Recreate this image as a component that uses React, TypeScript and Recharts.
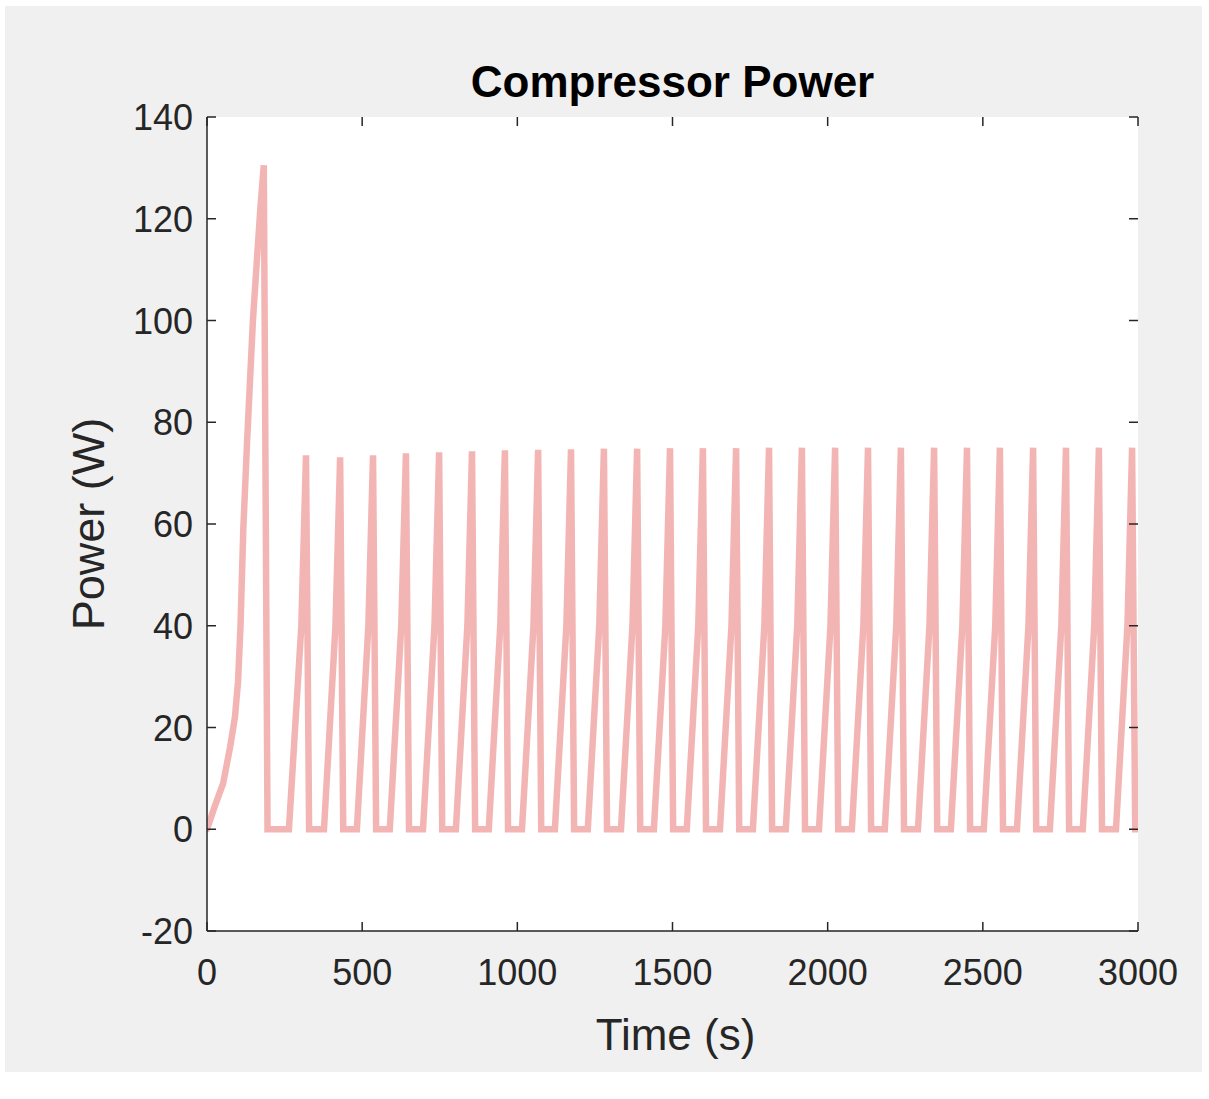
import React from "react";
import { LineChart, Line, XAxis, YAxis, CartesianGrid } from "recharts";

// time (s) and compressor power (W)
const timeSec = [
  0, 25, 52, 74, 90, 100, 108, 117, 129, 148, 162, 172, 183, 195,
  264, 304, 319, 329,
  377, 414, 429, 439,
  483, 520, 535, 545,
  589, 626, 641, 651,
  696, 733, 748, 758,
  802, 839, 854, 864,
  908, 945, 960, 970,
  1015, 1052, 1067, 1077,
  1121, 1158, 1173, 1183,
  1227, 1264, 1279, 1289,
  1334, 1371, 1386, 1396,
  1440, 1477, 1492, 1502,
  1546, 1583, 1598, 1608,
  1653, 1690, 1705, 1715,
  1759, 1796, 1811, 1821,
  1865, 1902, 1917, 1927,
  1972, 2009, 2024, 2034,
  2078, 2115, 2130, 2140,
  2184, 2221, 2236, 2246,
  2291, 2328, 2343, 2353,
  2397, 2434, 2449, 2459,
  2503, 2540, 2555, 2565,
  2610, 2647, 2662, 2672,
  2716, 2753, 2768, 2778,
  2822, 2859, 2874, 2884,
  2929, 2966, 2981, 2991,
  3000,
];

const powerW = [
  0, 4.5, 9, 16, 22, 29, 40, 59, 76, 100, 113, 122, 130.5, 0,
  0, 40, 73.5, 0,
  0, 40, 73.1, 0,
  0, 40, 73.5, 0,
  0, 40, 73.9, 0,
  0, 40, 74.1, 0,
  0, 40, 74.3, 0,
  0, 40, 74.5, 0,
  0, 40, 74.6, 0,
  0, 40, 74.7, 0,
  0, 40, 74.8, 0,
  0, 40, 74.8, 0,
  0, 40, 74.9, 0,
  0, 40, 74.9, 0,
  0, 40, 74.9, 0,
  0, 40, 75.0, 0,
  0, 40, 75.0, 0,
  0, 40, 75.0, 0,
  0, 40, 75.0, 0,
  0, 40, 75.0, 0,
  0, 40, 75.0, 0,
  0, 40, 75.0, 0,
  0, 40, 75.0, 0,
  0, 40, 75.0, 0,
  0, 40, 75.0, 0,
  0, 40, 75.0, 0,
  0, 40, 75.0, 0,
  0,
];

const xTicks = [0, 500, 1000, 1500, 2000, 2500, 3000];
const yTicks = [-20, 0, 20, 40, 60, 80, 100, 120, 140];

const data = timeSec.map((t, i) => ({ t, p: powerW[i] }));

// plot box in page pixels
const PLOT = { left: 207, right: 1138, top: 117, bottom: 931 };
const W = 1209;
const H = 1099;
const TICK_LEN = 9;
const AXIS = "#262626";
const FONT = "'Liberation Sans', Arial, Helvetica, sans-serif";

function XTick(props: any) {
  const { x, payload } = props;
  return (
    <g>
      <line x1={x} x2={x} y1={PLOT.bottom} y2={PLOT.bottom - TICK_LEN} stroke={AXIS} strokeWidth={1.5} />
      <line x1={x} x2={x} y1={PLOT.top} y2={PLOT.top + TICK_LEN} stroke={AXIS} strokeWidth={1.5} />
      <text x={x} y={PLOT.bottom + 54} textAnchor="middle" fontSize={36} fill={AXIS} fontFamily={FONT}>
        {payload.value}
      </text>
    </g>
  );
}

function YTick(props: any) {
  const { y, payload } = props;
  return (
    <g>
      <line x1={PLOT.left} x2={PLOT.left + TICK_LEN} y1={y} y2={y} stroke={AXIS} strokeWidth={1.5} />
      <line x1={PLOT.right} x2={PLOT.right - TICK_LEN} y1={y} y2={y} stroke={AXIS} strokeWidth={1.5} />
      <text x={PLOT.left - 14} y={y + 13} textAnchor="end" fontSize={36} fill={AXIS} fontFamily={FONT}>
        {payload.value}
      </text>
    </g>
  );
}

function XLabel() {
  return (
    <text x={(PLOT.left + PLOT.right) / 2 + 3} y={1050} textAnchor="middle" fontSize={44} fill={AXIS} fontFamily={FONT}>
      Time (s)
    </text>
  );
}

function YLabel() {
  const cx = 104;
  const cy = (PLOT.top + PLOT.bottom) / 2;
  return (
    <text x={cx} y={cy} transform={`rotate(-90 ${cx} ${cy})`} textAnchor="middle" fontSize={45} fill={AXIS} fontFamily={FONT}>
      Power (W)
    </text>
  );
}

export default function App() {
  return (
    <div style={{ position: "relative", width: W, height: H, background: "#fff", overflow: "hidden" }}>
      <style>{`body { margin: 0; }`}</style>
      <div style={{ position: "absolute", left: 5, top: 6, width: 1197, height: 1066, background: "#f0f0f0" }} />
      <div style={{ position: "absolute", left: 0, top: 0 }}>
        <LineChart width={W} height={H} data={data} margin={{ top: PLOT.top, right: W - PLOT.right, left: 0, bottom: 0 }}>
          <CartesianGrid horizontal={false} vertical={false} fill="#ffffff" />
          <XAxis
            dataKey="t"
            type="number"
            domain={[0, 3000]}
            ticks={xTicks}
            height={H - PLOT.bottom}
            tickLine={false}
            axisLine={{ stroke: AXIS, strokeWidth: 1.5 }}
            tick={<XTick />}
            label={<XLabel />}
            allowDataOverflow
          />
          <XAxis
            xAxisId="top"
            orientation="top"
            type="number"
            domain={[0, 3000]}
            height={0}
            tick={false}
            tickLine={false}
            axisLine={{ stroke: AXIS, strokeWidth: 1.5 }}
          />
          <YAxis
            type="number"
            domain={[-20, 140]}
            ticks={yTicks}
            width={PLOT.left}
            tickLine={false}
            axisLine={{ stroke: AXIS, strokeWidth: 1.5 }}
            tick={<YTick />}
            label={<YLabel />}
            allowDataOverflow
          />
          <YAxis
            yAxisId="right"
            orientation="right"
            type="number"
            domain={[-20, 140]}
            width={0}
            tick={false}
            tickLine={false}
            axisLine={{ stroke: AXIS, strokeWidth: 1.5 }}
          />
          <Line
            type="linear"
            dataKey="p"
            stroke="#f3b5b3"
            strokeWidth={6.5}
            strokeLinecap="round"
            dot={false}
            activeDot={false}
            isAnimationActive={false}
          />
        </LineChart>
      </div>
      <svg width={W} height={120} style={{ position: "absolute", left: 0, top: 0, pointerEvents: "none" }}>
        <text x={(PLOT.left + PLOT.right) / 2} y={97} textAnchor="middle" fontSize={44} fontWeight="bold" fill="#000" fontFamily={FONT}>
          Compressor Power
        </text>
      </svg>
    </div>
  );
}
